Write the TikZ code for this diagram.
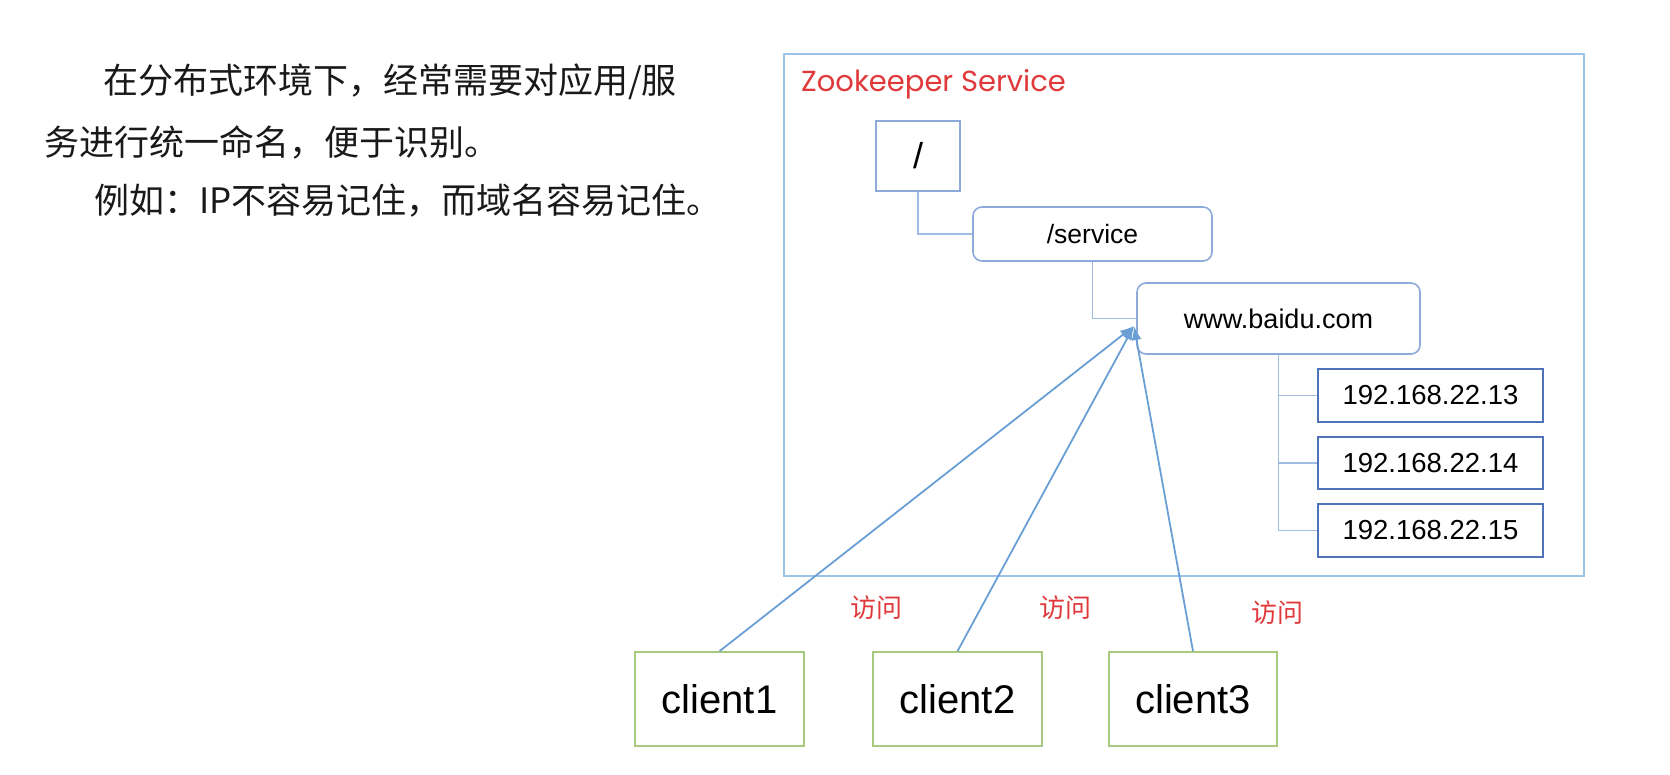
\documentclass[tikz,border=0pt]{standalone}
\usepackage{fontspec}
\setmainfont{Liberation Sans}
\newfontfamily\cjk{Noto Sans CJK SC}
\newfontfamily\popfont{Poppins}
\usetikzlibrary{arrows.meta}
\definecolor{zkline}{HTML}{9DC3E6}
\definecolor{treeline}{HTML}{9DBDE3}
\definecolor{rootbd}{HTML}{8EAADB}
\definecolor{ipbd}{HTML}{4F72B8}
\definecolor{clbd}{HTML}{A9C97F}
\definecolor{arrowc}{HTML}{6A9FD6}
\definecolor{zkred}{HTML}{E0393B}
\begin{document}
\begin{tikzpicture}[x=1pt,y=-1pt,
  para/.style={anchor=west,inner sep=0pt,font=\cjk\fontsize{35}{40}\selectfont,text=black!90},
  treebox/.style={draw=rootbd,line width=1.6pt,inner sep=0pt,fill=white},
  roundbox/.style={treebox,rounded corners=9pt},
  ipbox/.style={draw=ipbd,line width=1.6pt,inner sep=0pt,minimum width=225pt,font=\fontsize{27.5}{32}\selectfont},
  clientbox/.style={draw=clbd,line width=1.6pt,inner sep=0pt,minimum width=169pt,minimum height=94pt,font=\fontsize{40}{46}\selectfont},
  conn/.style={draw=treeline,line width=1.8pt},
  visit/.style={-{Latex[length=14pt,width=10pt]},draw=arrowc,line width=1.8pt},
  visitlbl/.style={inner sep=0pt,text=zkred,font=\cjk\fontsize{26}{30}\selectfont}
]
\path[use as bounding box] (0,0) rectangle (1670,774);

% explanatory text
\node[para] (l1) at (103,82) {在分布式环境下，经常需要对应用/服};
\node[para] (l2) at (44,142) {务进行统一命名，便于识别。};
\node[para] (l3) at (94,201) {例如：IP不容易记住，而域名容易记住。};

% outer service box
\node[draw=zkline,line width=2pt,minimum width=800pt,minimum height=522pt,inner sep=0pt] (zk) at (1184,315) {};
\node[anchor=west,inner sep=0pt,text=zkred,font=\popfont\fontsize{29}{34}\selectfont] (title) at (801,84) {Zookeeper Service};

% tree nodes
\node[treebox,minimum width=84pt,minimum height=70pt,font=\fontsize{36}{40}\selectfont] (root) at (918,156) {/};
\node[roundbox,minimum width=239pt,minimum height=54pt,font=\fontsize{26.5}{30}\selectfont] (svc) at (1092.5,234) {/service};
\node[roundbox,minimum width=283pt,minimum height=71pt,font=\fontsize{27}{30}\selectfont] (baidu) at (1278.5,318.5) {www.baidu.com};
\node[ipbox,minimum height=53pt] (ip1) at (1430.5,395.5) {192.168.22.13};
\node[ipbox,minimum height=52pt] (ip2) at (1430.5,463) {192.168.22.14};
\node[ipbox,minimum height=53pt] (ip3) at (1430.5,530.5) {192.168.22.15};

% tree connectors
\draw[conn] (root.south) |- (svc.west);
\draw[conn] (svc.south) |- (baidu.west);
\draw[conn] (baidu.south) |- (ip1.west);
\draw[conn] (baidu.south) |- (ip2.west);
\draw[conn] (baidu.south) |- (ip3.west);

% clients
\node[clientbox] (c1) at (719.5,699) {client1};
\node[clientbox] (c2) at (957.5,699) {client2};
\node[clientbox,minimum width=168pt] (c3) at (1193,699) {client3};

\coordinate (hit) at (1134,326);
\draw[visit] (c1.north) -- (hit);
\draw[visit] (c2.north) -- (hit);
\draw[visit] (c3.north) -- (hit);

\node[visitlbl] (v1) at (876,608) {访问};
\node[visitlbl] (v2) at (1065,608) {访问};
\node[visitlbl] (v3) at (1277,613) {访问};
\end{tikzpicture}
\end{document}
